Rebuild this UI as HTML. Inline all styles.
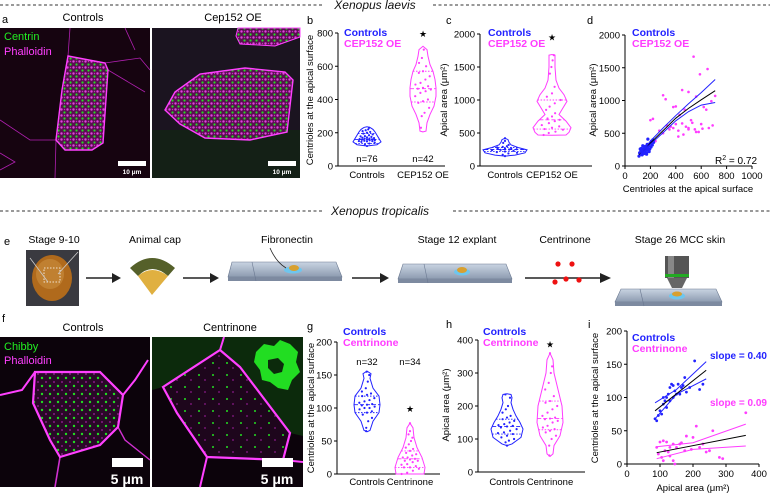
<!DOCTYPE html>
<html><head><meta charset="utf-8">
<style>
html,body{margin:0;padding:0;background:#fff;}
svg{display:block;font-family:"Liberation Sans",Arial,sans-serif;}
</style></head>
<body>
<svg id="fig" width="770" height="493" viewBox="0 0 770 493" xmlns="http://www.w3.org/2000/svg">
<defs>
  <pattern id="dotsA" width="6" height="6" patternUnits="userSpaceOnUse">
    <rect width="6" height="6" fill="#5a1050"/>
    <circle cx="1.5" cy="1.5" r="1.2" fill="#e040e0"/>
    <circle cx="4.5" cy="4.5" r="1.1" fill="#22e022"/>
    <circle cx="4.5" cy="1.5" r="0.7" fill="#c030c0"/>
  </pattern>
  <pattern id="dotsF1" width="8" height="8" patternUnits="userSpaceOnUse">
    <rect width="8" height="8" fill="#2a0828"/>
    <circle cx="2" cy="2" r="1.2" fill="#22dd22"/>
    <circle cx="6" cy="6" r="0.9" fill="#a020a0"/>
  </pattern>
  <pattern id="dotsF2" width="14" height="12" patternUnits="userSpaceOnUse">
    <rect width="14" height="12" fill="#1e061c"/>
    <circle cx="3" cy="3" r="1" fill="#22dd22"/>
    <circle cx="9" cy="8" r="0.9" fill="#8a1a8a"/>
  </pattern>
  <linearGradient id="slide" x1="0" y1="0" x2="0" y2="1">
    <stop offset="0" stop-color="#c9d4e2"/><stop offset="1" stop-color="#8d9bb0"/>
  </linearGradient>
</defs>

<g>
  <line x1="0" y1="5" x2="323" y2="5" stroke="#333" stroke-dasharray="3,2.5" stroke-width="1"/>
  <text x="375" y="9" font-size="12" font-style="italic" text-anchor="middle" fill="#111">Xenopus laevis</text>
  <line x1="433" y1="5" x2="770" y2="5" stroke="#333" stroke-dasharray="3,2.5" stroke-width="1"/>
</g>
<g>
  <line x1="0" y1="211" x2="323" y2="211" stroke="#333" stroke-dasharray="3,2.5" stroke-width="1"/>
  <text x="380" y="215" font-size="12" font-style="italic" text-anchor="middle" fill="#111">Xenopus tropicalis</text>
  <line x1="453" y1="211" x2="770" y2="211" stroke="#333" stroke-dasharray="3,2.5" stroke-width="1"/>
</g>

<g>
  <text x="2" y="23" font-size="11">a</text>
  <text x="83" y="21" font-size="11" text-anchor="middle">Controls</text>
  <text x="233" y="21" font-size="11" text-anchor="middle">Cep152 OE</text>
  <g>
    <rect x="0" y="28" width="150" height="150" fill="#160410"/>
    <polyline points="70,28 68,56 62,90 56,140 55,178" fill="none" stroke="#b020b0" stroke-width="0.8"/>
    <polyline points="105,63 140,58 150,70" fill="none" stroke="#b020b0" stroke-width="0.8"/>
    <polyline points="108,70 145,92" fill="none" stroke="#b020b0" stroke-width="0.8"/>
    <polyline points="0,153 15,162 0,170" fill="none" stroke="#b020b0" stroke-width="0.8"/>
    <polyline points="0,120 30,140 56,140" fill="none" stroke="#b020b0" stroke-width="0.8"/>
    <polyline points="125,28 135,50" fill="none" stroke="#b020b0" stroke-width="0.8"/>
    <polygon points="68,56 105,63 108,70 103,143 92,150 65,150 56,140 62,90" fill="url(#dotsA)" stroke="#ff40ff" stroke-width="1.4"/>
    <rect x="118" y="161" width="28" height="5" fill="#fff"/>
    <text x="132" y="174" font-size="6.5" font-weight="bold" fill="#fff" text-anchor="middle">10 μm</text>
  </g>
  <g>
    <rect x="152" y="28" width="148" height="150" fill="#1b1420"/>
    <rect x="152" y="130" width="148" height="48" fill="#102810" opacity="0.6"/>
    <polygon points="238,28 300,28 300,37 275,46 240,44 236,36" fill="url(#dotsA)" stroke="#ff40ff" stroke-width="1"/>
    <polygon points="165,110 175,92 200,74 245,68 285,72 293,80 287,132 250,140 205,138 180,124" fill="url(#dotsA)" stroke="#ff40ff" stroke-width="1.4"/>
    <rect x="268" y="161" width="28" height="5" fill="#fff"/>
    <text x="282" y="174" font-size="6.5" font-weight="bold" fill="#fff" text-anchor="middle">10 μm</text>
  </g>
  <text x="4" y="40" font-size="11" fill="#22ee22">Centrin</text>
  <text x="4" y="55" font-size="11" fill="#ff40ff">Phalloidin</text>
</g>

<g>
  <text x="4" y="245" font-size="11">e</text>
  <text x="54" y="243" font-size="10.5" text-anchor="middle">Stage 9-10</text>
  <text x="155" y="243" font-size="10.5" text-anchor="middle">Animal cap</text>
  <text x="287" y="243" font-size="10.5" text-anchor="middle">Fibronectin</text>
  <text x="457" y="243" font-size="10.5" text-anchor="middle">Stage 12 explant</text>
  <text x="565" y="243" font-size="10.5" text-anchor="middle">Centrinone</text>
  <text x="680" y="243" font-size="10.5" text-anchor="middle">Stage 26 MCC skin</text>
  <g>
    <rect x="26" y="250" width="53" height="56" fill="#3a3a40"/>
    <ellipse cx="52" cy="278" rx="20" ry="23" fill="#b06a1c"/>
    <ellipse cx="50" cy="274" rx="14" ry="15" fill="#c88a3a" opacity="0.7"/>
    <rect x="44" y="268" width="16" height="14" fill="none" stroke="#fff" stroke-dasharray="1.5,1.5" stroke-width="0.8"/>
    <line x1="30" y1="258" x2="48" y2="282" stroke="#ccc" stroke-width="0.8"/>
    <line x1="78" y1="252" x2="58" y2="274" stroke="#ccc" stroke-width="0.8"/>
  </g>
  <g>
    <path d="M130,268 Q152,248 175,268 L168,276 Q152,262 138,276 Z" fill="#55602a"/>
    <path d="M138,276 Q152,264 168,276 L152,295 Z" fill="#e0b040"/>
  </g>
  <g stroke="#222" stroke-width="1.6" fill="#222">
    <line x1="86" y1="278" x2="112" y2="278"/><polygon points="112,273 121,278 112,283" stroke="none"/>
    <line x1="183" y1="278" x2="210" y2="278"/><polygon points="210,273 219,278 210,283" stroke="none"/>
    <line x1="352" y1="278" x2="380" y2="278"/><polygon points="380,273 389,278 380,283" stroke="none"/>
    <line x1="525" y1="278" x2="600" y2="278"/><polygon points="600,273 611,278 600,283" stroke="none"/>
  </g>
  <g>
    <polygon points="232,262 336,262 342,277 228,277" fill="url(#slide)" stroke="#6a7890" stroke-width="0.6"/>
    <rect x="228" y="277" width="114" height="4" fill="#7d8aa0"/>
    <line x1="252" y1="262" x2="256" y2="281" stroke="#6a7890" stroke-width="0.6"/>
    <ellipse cx="293" cy="270" rx="9" ry="3.5" fill="#6ec6ee"/>
    <ellipse cx="294" cy="268" rx="5" ry="3" fill="#d8a030"/>
    <path d="M270,248 Q276,262 286,268" fill="none" stroke="#222" stroke-width="0.8"/>
  </g>
  <g>
    <polygon points="403,264 506,264 512,279 398,279" fill="url(#slide)" stroke="#6a7890" stroke-width="0.6"/>
    <rect x="398" y="279" width="114" height="4" fill="#7d8aa0"/>
    <line x1="424" y1="264" x2="428" y2="283" stroke="#6a7890" stroke-width="0.6"/>
    <ellipse cx="462" cy="272" rx="8" ry="3.5" fill="#6ec6ee"/>
    <ellipse cx="462" cy="270" rx="5" ry="3" fill="#d8a030"/>
  </g>
  <g fill="#ee1111">
    <circle cx="558" cy="264" r="2.6"/><circle cx="572" cy="264" r="2.6"/>
    <circle cx="555" cy="282" r="2.6"/><circle cx="566" cy="279" r="2.6"/><circle cx="579" cy="280" r="2.6"/>
  </g>
  <g>
    <rect x="665" y="256" width="24" height="22" fill="#555"/>
    <rect x="668" y="256" width="6" height="22" fill="#888"/>
    <rect x="665" y="274" width="24" height="3" fill="#22aa22"/>
    <polygon points="667,278 687,278 682,288 672,288" fill="#666"/>
    <polygon points="621,289 716,289 722,302 615,302" fill="url(#slide)" stroke="#6a7890" stroke-width="0.6"/>
    <rect x="615" y="302" width="107" height="4" fill="#7d8aa0"/>
    <line x1="640" y1="289" x2="644" y2="306" stroke="#6a7890" stroke-width="0.6"/>
    <ellipse cx="677" cy="296" rx="8" ry="3.5" fill="#6ec6ee"/>
    <ellipse cx="677" cy="294" rx="5" ry="2.5" fill="#d8a030"/>
  </g>
</g>

<g>
  <text x="2" y="322" font-size="11">f</text>
  <text x="83" y="331" font-size="11" text-anchor="middle">Controls</text>
  <text x="230" y="331" font-size="11" text-anchor="middle">Centrinone</text>
  <g>
    <rect x="0" y="337" width="150" height="150" fill="#0c030b"/>
    <polyline points="0,395 22,390 35,372" fill="none" stroke="#ff40ff" stroke-width="2"/>
    <polyline points="123,395 135,380 148,360" fill="none" stroke="#ff40ff" stroke-width="2"/>
    <polyline points="118,427 125,440 150,460" fill="none" stroke="#d030d0" stroke-width="1.4"/>
    <polyline points="60,457 55,487" fill="none" stroke="#d030d0" stroke-width="1.6"/>
    <polygon points="35,372 100,372 123,395 118,427 100,445 60,457 50,440 33,403" fill="url(#dotsF1)" stroke="#ff40ff" stroke-width="2.2"/>
    <rect x="112" y="458" width="31" height="9" fill="#fff"/>
    <text x="127" y="484" font-size="14" font-weight="bold" fill="#fff" text-anchor="middle">5 μm</text>
  </g>
  <g>
    <rect x="152" y="337" width="151" height="150" fill="#0c030b"/>
    <polygon points="152,337 303,337 303,436 290,433 240,367 220,350 163,387 152,390" fill="#0c2a0c"/>
    <path d="M256,352 l8,-8 l10,2 l6,-6 l10,4 l8,8 l-2,10 l4,10 l-8,8 l-4,10 l-10,-2 l-8,-6 l-8,-2 l-2,-10 l-6,-8 z" fill="#22dd22"/>
    <path d="M268,360 l10,-2 l6,6 l-2,8 l-8,2 l-6,-6 z" fill="#0c2a0c"/>
    <polygon points="163,387 220,350 240,367 290,433 283,460 207,457 177,413" fill="url(#dotsF2)" stroke="#ff40ff" stroke-width="2.2"/>
    <polyline points="220,350 224,337" fill="none" stroke="#ff40ff" stroke-width="2"/>
    <polyline points="207,457 200,487" fill="none" stroke="#ff40ff" stroke-width="2"/>
    <polyline points="283,460 303,462" fill="none" stroke="#ff40ff" stroke-width="2"/>
    <rect x="262" y="458" width="31" height="9" fill="#fff"/>
    <text x="277" y="484" font-size="14" font-weight="bold" fill="#fff" text-anchor="middle">5 μm</text>
  </g>
  <text x="4" y="350" font-size="11" fill="#22ee22">Chibby</text>
  <text x="4" y="364" font-size="11" fill="#ff40ff">Phalloidin</text>
</g>

<g id="charts"></g>
</svg>

<script>
// ---------- DATA ----------
const bCategories = ["Controls", "CEP152 OE"];
const bTicks = [0, 200, 400, 600, 800];
const bCtrlPoints = [120,130,135,140,145,148,150,150,152,155,155,158,160,160,162,165,165,168,170,172,175,178,180,185,190,195,200,205,210,215,220,230];
const bCepPoints = [230,300,320,350,380,390,400,420,440,450,460,465,470,480,490,500,520,540,560,570,600,620,650,700];
const bCtrlProfile = [[120,0],[128,10],[145,14],[165,12],[185,10],[205,8],[220,6],[232,3],[236,0]];
const bCepProfile = [[205,0],[210,3],[260,4],[310,7],[360,11],[420,13],[470,13],[520,12],[570,10],[610,7],[660,5],[700,4],[720,0]];
const bCtrlStats = [135, 160, 195];
const bCepStats = [385, 465, 570];
const bN = ["n=76", "n=42"];

const cTicks = [0, 500, 1000, 1500, 2000];
const cCtrlPoints = [150,170,190,200,210,220,230,240,245,250,255,260,265,270,280,290,300,320,350,380,420];
const cCepPoints = [470,500,520,550,560,580,600,620,650,680,700,720,750,800,850,900,950,1000,1050,1100,1200,1400,1500,1600,1680];
const cCtrlProfile = [[150,0],[165,10],[200,20],[245,22],[280,13],[320,6],[360,4],[400,3],[420,0]];
const cCepProfile = [[465,0],[470,14],[510,17],[580,19],[680,14],[780,7],[880,11],[980,15],[1080,12],[1180,7],[1300,4],[1500,3],[1680,3],[1690,0]];
const cCtrlStats = [220, 250, 280];
const cCepStats = [560, 700, 1000];

const dXTicks = [0, 200, 400, 600, 800, 1000];
const dYTicks = [0, 500, 1000, 1500, 2000];
const dCtrlX = [110,115,120,125,130,135,140,145,150,150,155,160,160,165,170,175,180,185,190,195,200,205,210,215,220,225,130,140,170,190,120,180];
const dCtrlY = [150,200,180,230,250,170,210,260,240,190,280,220,300,250,200,330,270,240,310,260,350,290,380,320,400,360,270,310,180,220,260,410];
const dCepX = [540,650,590,710,300,320,380,400,450,500,560,470,430,220,200,350,380,420,460,480,500,520,550,580,600,620,640,450,400,360,330,680,690,270,240,500,530,420,300,560,610,660];
const dCepY = [1670,1480,1400,1070,1080,1020,900,910,1160,1130,1060,860,780,720,700,560,580,540,480,600,560,700,560,520,640,900,860,650,640,600,620,990,620,540,380,580,660,450,500,520,570,580];
const dFitX = [110, 200, 300, 400, 500, 600, 710];
const dFitY = [170, 350, 540, 730, 880, 1010, 1150];
const dUpperY = [150, 380, 580, 770, 950, 1120, 1320];
const dLowerY = [190, 330, 510, 690, 830, 930, 970];

const gTicks = [0, 50, 100, 150, 200];
const gCtrlPoints = [65,70,80,85,90,93,95,98,100,100,102,104,105,106,108,110,112,115,118,120,122,125,130,140,150,155];
const gCenPoints = [0,2,5,8,10,10,12,14,15,18,20,20,22,23,25,25,28,30,32,35,38,40,45,50,55,60,65,77];
const gCtrlProfile = [[64,0],[66,3],[80,6],[93,12],[105,13],[118,12],[130,6],[145,3],[152,4],[156,0]];
const gCenProfile = [[0,14],[10,15],[25,12],[40,7],[55,4],[70,3],[77,0]];
const gCtrlStats = [93, 105, 118];
const gCenStats = [10, 23, 35];
const gN = ["n=32", "n=34"];

const hTicks = [0, 100, 200, 300, 400];
const hCtrlPoints = [80,90,95,100,105,110,115,118,120,125,130,135,138,140,142,145,150,155,160,165,170,180,190,200,225,235];
const hCenPoints = [50,80,100,110,120,125,130,135,140,150,155,160,162,165,170,180,190,200,210,215,230,250,270,300,320,360];
const hCtrlProfile = [[80,0],[85,5],[105,14],[130,16],[150,13],[170,9],[190,6],[210,4],[225,5],[235,4],[237,0]];
const hCenProfile = [[47,0],[55,3],[80,4],[110,10],[150,13],[200,12],[250,8],[300,4],[340,3],[360,0]];
const hCtrlStats = [115, 138, 160];
const hCenStats = [128, 162, 215];

const iXTicks = [0, 100, 200, 300, 400];
const iYTicks = [0, 50, 100, 150, 200];
const iCtrlX = [85,90,100,105,95,110,115,120,125,130,135,140,145,150,155,165,170,175,180,190,205,230,220,120,110,130,140,160];
const iCtrlY = [68,65,80,75,73,90,95,100,105,115,120,100,110,105,120,115,118,130,108,115,155,120,112,85,100,95,118,105];
const iCenX = [90,100,110,120,95,105,115,125,130,140,150,160,165,180,200,210,220,240,250,260,280,290,360,130,145,175,195,230,110,140];
const iCenY = [25,33,35,33,15,10,20,18,12,5,25,30,32,42,40,57,25,18,20,50,10,8,77,25,0,20,22,30,5,30];
const iFitX = [85, 240];
const iCtrlFit = [80, 141];
const iCtrlUpX = [85, 150, 240];
const iCtrlUp = [92, 112, 154];
const iCtrlLo = [68, 105, 128];
const iCenFitX = [90, 360];
const iCenFit = [17, 43];
const iCenUpX = [90, 200, 360];
const iCenUp = [26, 32, 60];
const iCenLo = [8, 22, 27];

// ---------- DRAWING ----------
const NS = "http://www.w3.org/2000/svg";
const root = document.getElementById("charts");
const BLUE = "#2222ff", PINK = "#ff3cff";
const TICK = 9.5;
function el(tag, attrs, parent) {
  const e = document.createElementNS(NS, tag);
  for (const k in attrs) e.setAttribute(k, attrs[k]);
  (parent || root).appendChild(e);
  return e;
}
function txt(parent, x, y, s, size, opts) {
  const t = el("text", Object.assign({x: x, y: y, "font-size": size}, opts || {}), parent);
  t.textContent = s;
  return t;
}
function scale(d0, d1, r0, r1) { return v => r0 + (v - d0) * (r1 - r0) / (d1 - d0); }

function axes(g, x0, x1, y0, y1, ys, yTicks, name) {
  const ax = el("g", {}, g);
  
  
  el("line", {x1: x0, y1: y1, x2: x0, y2: y0, stroke: "#000", "stroke-width": 1}, ax);
  el("line", {x1: x0, y1: y0, x2: x1, y2: y0, stroke: "#000", "stroke-width": 1}, ax);
  yTicks.forEach(v => {
    el("line", {x1: x0 - 3, y1: ys(v), x2: x0, y2: ys(v), stroke: "#000"}, ax);
    const t = txt(ax, x0 - 5, ys(v) + 3.5, String(v), TICK, {"text-anchor": "end"});
    
    
  });
}

function violin(g, cx, ys, profile, pts, stats, color, name) {
  const vg = el("g", {}, g);
  
  
  let d = "";
  profile.forEach((p, i) => { d += (i ? "L" : "M") + (cx + p[1]) + "," + ys(p[0]); });
  for (let i = profile.length - 1; i >= 0; i--) d += "L" + (cx - profile[i][1]) + "," + ys(profile[i][0]);
  d += "Z";
  el("path", {d: d, fill: "none", stroke: color, "stroke-width": 1}, vg);
  function halfAt(v) {
    for (let i = 0; i < profile.length - 1; i++) {
      const a = profile[i], b = profile[i + 1];
      if (v >= a[0] && v <= b[0]) return a[1] + (b[1] - a[1]) * (v - a[0]) / (b[0] - a[0] || 1);
    }
    return 0;
  }
  stats.forEach((s, i) => {
    const w = halfAt(s);
    el("line", {x1: cx - w, x2: cx + w, y1: ys(s), y2: ys(s), stroke: color, "stroke-width": 0.9, "stroke-dasharray": i === 1 ? "4,2" : "1.5,1.5"}, vg);
  });
  pts.forEach((v, i) => {
    const w = halfAt(v) * 0.6;
    const off = ((i * 37) % 7 - 3) / 3 * w;
    const c = el("circle", {cx: cx + off, cy: ys(v), r: 1.1, fill: color}, vg);
    
    
  });
}

function legend(g, x, y, a, b) {
  const lg = el("g", {}, g);
  
  
  txt(lg, x, y, a, 10.5, {fill: BLUE, "font-weight": "bold"});
  txt(lg, x, y + 11, b, 10.5, {fill: PINK, "font-weight": "bold"});
}
function ytitle(g, x, cy, s) {
  const t = txt(g, x, cy, s, 9.5, {"text-anchor": "middle", transform: "rotate(-90 " + x + " " + cy + ")"});
  
  
}
function xcats(g, xs, y, cats) {
  cats.forEach((c, i) => {
    const t = txt(g, xs[i], y, c, 9.5, {"text-anchor": "middle"});
    
    
  });
}
function star(g, x, y) {
  const t = txt(g, x, y, "★", 9, {"text-anchor": "middle"});
  
  
}
function polyline(g, xsArr, ysArr, xs, ys, color, w) {
  const p = xsArr.map((v, i) => xs(v) + "," + ys(ysArr[i])).join(" ");
  return el("polyline", {points: p, fill: "none", stroke: color, "stroke-width": w}, g);
}

// ---- panel b ----
{
  const g = el("g", {});
  
  
  txt(g, 307, 24, "b", 11);
  const ys = scale(0, 800, 166, 33);
  axes(g, 338, 445, 166, 33, ys, bTicks, "panel-b");
  const xs = [367, 423];
  violin(g, xs[0], ys, bCtrlProfile, bCtrlPoints, bCtrlStats, BLUE, "violin-b-controls");
  violin(g, xs[1], ys, bCepProfile, bCepPoints, bCepStats, PINK, "violin-b-cep152");
  legend(g, 344, 36, "Controls", "CEP152 OE");
  star(g, xs[1], ys(800) + 4);
  bN.forEach((n, i) => txt(g, xs[i], 162, n, 9.5, {"text-anchor": "middle"}));
  xcats(g, xs, 178, bCategories);
  ytitle(g, 313, 100, "Centrioles at the apical surface");
}
// ---- panel c ----
{
  const g = el("g", {});
  
  
  txt(g, 446, 24, "c", 11);
  const ys = scale(0, 2000, 166, 34);
  axes(g, 480, 592, 166, 34, ys, cTicks, "panel-c");
  const xs = [505, 552];
  violin(g, xs[0], ys, cCtrlProfile, cCtrlPoints, cCtrlStats, BLUE, "violin-c-controls");
  violin(g, xs[1], ys, cCepProfile, cCepPoints, cCepStats, PINK, "violin-c-cep152");
  legend(g, 488, 36, "Controls", "CEP152 OE");
  star(g, xs[1], ys(1950) + 3);
  xcats(g, xs, 178, bCategories);
  ytitle(g, 447, 100, "Apical area (μm²)");
}
// ---- panel d ----
{
  const g = el("g", {});
  
  
  txt(g, 587, 24, "d", 11);
  const ys = scale(0, 2000, 166, 35);
  const xs = scale(0, 1000, 625, 752);
  axes(g, 625, 752, 166, 35, ys, dYTicks, "panel-d");
  dXTicks.forEach(v => {
    el("line", {x1: xs(v), x2: xs(v), y1: 166, y2: 169, stroke: "#000"}, g);
    const t = txt(g, xs(v), 179, String(v), TICK, {"text-anchor": "middle"});
    
    
  });
  dCepX.forEach((v, i) => {
    const c = el("circle", {cx: xs(v), cy: ys(dCepY[i]), r: 1.3, fill: PINK}, g);
    
    
  });
  dCtrlX.forEach((v, i) => {
    const c = el("circle", {cx: xs(v), cy: ys(dCtrlY[i]), r: 1.6, fill: BLUE}, g);
    
    
  });
  const f = polyline(g, dFitX, dFitY, xs, ys, "#000", 1);
  
  
  const u = polyline(g, dFitX, dUpperY, xs, ys, BLUE, 1);
  
  
  const l = polyline(g, dFitX, dLowerY, xs, ys, BLUE, 1);
  
  
  legend(g, 632, 36, "Controls", "CEP152 OE");
  const r = txt(g, 715, 164, "R", 10);
  
  
  r.innerHTML = 'R<tspan dy="-4" font-size="7">2</tspan><tspan dy="4"> = 0.72</tspan>';
  const xt = txt(g, 688, 192, "Centrioles at the apical surface", 9.5, {"text-anchor": "middle"});
  
  
  ytitle(g, 596, 100, "Apical area (μm²)");
}
// ---- panel g ----
{
  const g = el("g", {});
  
  
  txt(g, 307, 330, "g", 11);
  const ys = scale(0, 200, 474, 342);
  axes(g, 337, 440, 474, 342, ys, gTicks, "panel-g");
  const xs = [367, 410];
  violin(g, xs[0], ys, gCtrlProfile, gCtrlPoints, gCtrlStats, BLUE, "violin-g-controls");
  violin(g, xs[1], ys, gCenProfile, gCenPoints, gCenStats, PINK, "violin-g-centrinone");
  legend(g, 343, 335, "Controls", "Centrinone");
  gN.forEach((n, i) => txt(g, xs[i], 365, n, 9.5, {"text-anchor": "middle"}));
  star(g, xs[1], ys(100) + 4);
  xcats(g, xs, 485, ["Controls", "Centrinone"]);
  ytitle(g, 314, 408, "Centrioles at the apical surface");
}
// ---- panel h ----
{
  const g = el("g", {});
  
  
  txt(g, 446, 328, "h", 11);
  const ys = scale(0, 400, 472, 340);
  axes(g, 478, 585, 472, 340, ys, hTicks, "panel-h");
  const xs = [507, 550];
  violin(g, xs[0], ys, hCtrlProfile, hCtrlPoints, hCtrlStats, BLUE, "violin-h-controls");
  violin(g, xs[1], ys, hCenProfile, hCenPoints, hCenStats, PINK, "violin-h-centrinone");
  legend(g, 483, 335, "Controls", "Centrinone");
  star(g, xs[1], ys(390) + 4);
  xcats(g, xs, 485, ["Controls", "Centrinone"]);
  ytitle(g, 449, 405, "Apical area (μm²)");
}
// ---- panel i ----
{
  const g = el("g", {});
  
  
  txt(g, 588, 328, "i", 11);
  const ys = scale(0, 200, 464, 331);
  const xs = scale(0, 400, 627, 759);
  axes(g, 627, 759, 464, 331, ys, iYTicks, "panel-i");
  iXTicks.forEach(v => {
    el("line", {x1: xs(v), x2: xs(v), y1: 464, y2: 467, stroke: "#000"}, g);
    const t = txt(g, xs(v), 477, String(v), TICK, {"text-anchor": "middle"});
    
    
  });
  iCtrlX.forEach((v, i) => {
    const c = el("circle", {cx: xs(v), cy: ys(iCtrlY[i]), r: 1.4, fill: BLUE}, g);
    
    
  });
  iCenX.forEach((v, i) => {
    const c = el("circle", {cx: xs(v), cy: ys(iCenY[i]), r: 1.4, fill: PINK}, g);
    
    
  });
  const a = polyline(g, iCtrlUpX, iCtrlUp, xs, ys, BLUE, 1);
  
  
  const b = polyline(g, iCtrlUpX, iCtrlLo, xs, ys, BLUE, 1);
  
  
  const c1 = polyline(g, iFitX, iCtrlFit, xs, ys, "#000", 1);
  
  
  const d1 = polyline(g, iCenUpX, iCenUp, xs, ys, PINK, 1);
  
  
  const e1 = polyline(g, iCenUpX, iCenLo, xs, ys, PINK, 1);
  
  
  const f1 = polyline(g, iCenFitX, iCenFit, xs, ys, "#000", 1);
  
  
  legend(g, 632, 341, "Controls", "Centrinone");
  const s1 = txt(g, 710, 359, "slope = 0.40", 10, {fill: BLUE, "font-weight": "bold"});
  
  
  const s2 = txt(g, 710, 406, "slope = 0.09", 10, {fill: PINK, "font-weight": "bold"});
  
  
  const xt = txt(g, 693, 491, "Apical area (μm²)", 9.5, {"text-anchor": "middle"});
  
  
  ytitle(g, 598, 398, "Centrioles at the apical surface");
}
</script>
</body></html>
